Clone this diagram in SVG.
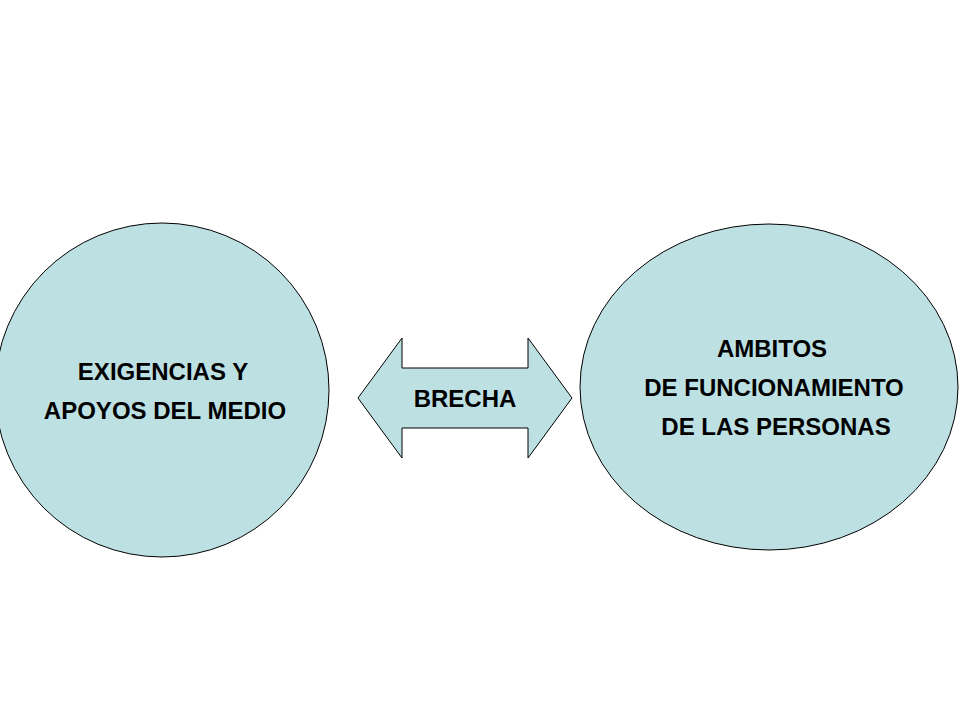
<svg xmlns="http://www.w3.org/2000/svg" width="960" height="720" viewBox="0 0 960 720">
<style>
.n{fill:#bde0e3;stroke:#000;stroke-width:1}
.t{font-family:"Liberation Sans",Arial,sans-serif;font-weight:bold;font-size:24px;fill:#000;text-anchor:middle}
</style>
<rect width="960" height="720" fill="#fff"/>
<g id="exigencias">
<ellipse class="n" cx="162" cy="390" rx="167" ry="167"/>
<text class="t" x="163" y="380">EXIGENCIAS  Y</text>
<text class="t" x="165" y="419">APOYOS  DEL MEDIO</text>
</g>
<g id="ambitos">
<ellipse class="n" cx="769" cy="387" rx="189" ry="163"/>
<text class="t" x="772" y="357">AMBITOS</text>
<text class="t" x="774" y="396">DE FUNCIONAMIENTO</text>
<text class="t" x="776" y="435">DE LAS PERSONAS</text>
</g>
<g id="connectors">
<g id="brecha">
<polygon class="n" points="358,398 402,338 402,368 528,368 528,338 572,398 528,458 528,428 402,428 402,458"/>
<text class="t" x="465" y="407">BRECHA</text>
</g>
</g>
</svg>
